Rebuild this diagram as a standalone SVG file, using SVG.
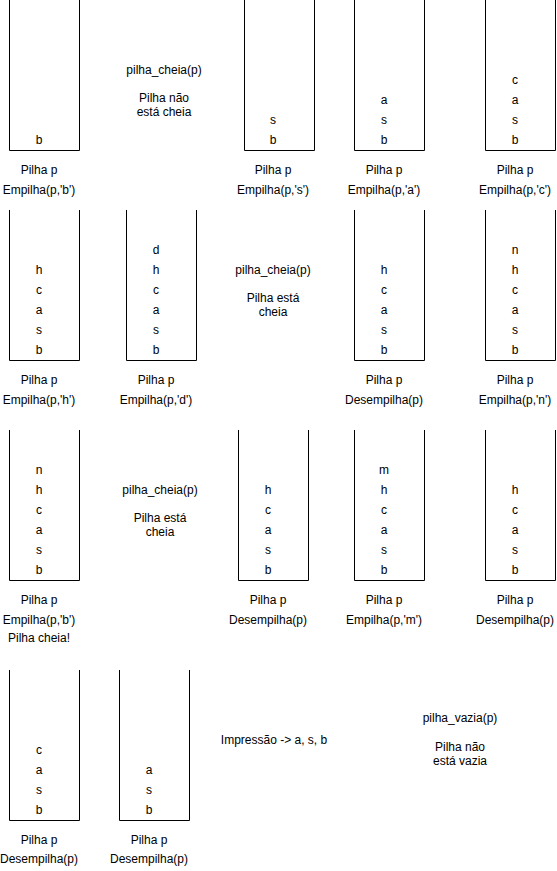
<svg xmlns="http://www.w3.org/2000/svg" width="557" height="871" viewBox="0 0 557 871">
<style>
text{font-family:"Liberation Sans",Arial,sans-serif;font-size:12px;fill:#000;text-anchor:middle}
.st{fill:none;stroke:#000;stroke-width:1}
</style>
<rect width="557" height="871" fill="#fff"/>
<g id="connectors"/>
<!-- Row 1 -->
<g id="s1">
<path class="st" d="M9.5,0V150.5H79.5V0"/>
<text x="39" y="144">b</text>
<text x="39" y="174">Pilha p</text><text x="39" y="194">Empilha(p,'b')</text>
</g>
<g id="t1">
<text x="164" y="74">pilha_cheia(p)</text>
<text x="164" y="102">Pilha não</text><text x="164" y="116">está cheia</text>
</g>
<g id="s2">
<path class="st" d="M244.5,0V150.5H314.5V0"/>
<text x="273" y="124">s</text><text x="273" y="144">b</text>
<text x="273" y="174">Pilha p</text><text x="273" y="194">Empilha(p,'s')</text>
</g>
<g id="s3">
<path class="st" d="M354.5,0V150.5H424.5V0"/>
<text x="384" y="104">a</text><text x="384" y="124">s</text><text x="384" y="144">b</text>
<text x="384" y="174">Pilha p</text><text x="384" y="194">Empilha(p,'a')</text>
</g>
<g id="s4">
<path class="st" d="M485.5,0V150.5H555.5V0"/>
<text x="515" y="84">c</text><text x="515" y="104">a</text><text x="515" y="124">s</text><text x="515" y="144">b</text>
<text x="515" y="174">Pilha p</text><text x="515" y="194">Empilha(p,'c')</text>
</g>
<!-- Row 2 -->
<g id="s5">
<path class="st" d="M9.5,210V360.5H79.5V210"/>
<text x="39" y="274">h</text><text x="39" y="294">c</text><text x="39" y="314">a</text><text x="39" y="334">s</text><text x="39" y="354">b</text>
<text x="39" y="384">Pilha p</text><text x="39" y="404">Empilha(p,'h')</text>
</g>
<g id="s6">
<path class="st" d="M126.5,210V360.5H196.5V210"/>
<text x="156" y="254">d</text><text x="156" y="274">h</text><text x="156" y="294">c</text><text x="156" y="314">a</text><text x="156" y="334">s</text><text x="156" y="354">b</text>
<text x="156" y="384">Pilha p</text><text x="156" y="404">Empilha(p,'d')</text>
</g>
<g id="t2">
<text x="273" y="274">pilha_cheia(p)</text>
<text x="273" y="302">Pilha está</text><text x="273" y="316">cheia</text>
</g>
<g id="s7">
<path class="st" d="M354.5,210V360.5H424.5V210"/>
<text x="384" y="274">h</text><text x="384" y="294">c</text><text x="384" y="314">a</text><text x="384" y="334">s</text><text x="384" y="354">b</text>
<text x="384" y="384">Pilha p</text><text x="384" y="404">Desempilha(p)</text>
</g>
<g id="s8">
<path class="st" d="M485.5,210V360.5H555.5V210"/>
<text x="515" y="254">n</text><text x="515" y="274">h</text><text x="515" y="294">c</text><text x="515" y="314">a</text><text x="515" y="334">s</text><text x="515" y="354">b</text>
<text x="515" y="384">Pilha p</text><text x="515" y="404">Empilha(p,'n')</text>
</g>
<!-- Row 3 -->
<g id="s9">
<path class="st" d="M9.5,430V580.5H79.5V430"/>
<text x="39" y="474">n</text><text x="39" y="494">h</text><text x="39" y="514">c</text><text x="39" y="534">a</text><text x="39" y="554">s</text><text x="39" y="574">b</text>
<text x="39" y="604">Pilha p</text><text x="39" y="624">Empilha(p,'b')</text><text x="39" y="642">Pilha cheia!</text>
</g>
<g id="t3">
<text x="160" y="494">pilha_cheia(p)</text>
<text x="160" y="522">Pilha está</text><text x="160" y="536">cheia</text>
</g>
<g id="s10">
<path class="st" d="M238.5,430V580.5H308.5V430"/>
<text x="268" y="494">h</text><text x="268" y="514">c</text><text x="268" y="534">a</text><text x="268" y="554">s</text><text x="268" y="574">b</text>
<text x="268" y="604">Pilha p</text><text x="268" y="624">Desempilha(p)</text>
</g>
<g id="s11">
<path class="st" d="M354.5,430V580.5H424.5V430"/>
<text x="384" y="474">m</text><text x="384" y="494">h</text><text x="384" y="514">c</text><text x="384" y="534">a</text><text x="384" y="554">s</text><text x="384" y="574">b</text>
<text x="384" y="604">Pilha p</text><text x="384" y="624">Empilha(p,'m')</text>
</g>
<g id="s12">
<path class="st" d="M485.5,430V580.5H555.5V430"/>
<text x="515" y="494">h</text><text x="515" y="514">c</text><text x="515" y="534">a</text><text x="515" y="554">s</text><text x="515" y="574">b</text>
<text x="515" y="604">Pilha p</text><text x="515" y="624">Desempilha(p)</text>
</g>
<!-- Row 4 -->
<g id="s13">
<path class="st" d="M9.5,670V820.5H79.5V670"/>
<text x="39" y="754">c</text><text x="39" y="774">a</text><text x="39" y="794">s</text><text x="39" y="814">b</text>
<text x="39" y="844">Pilha p</text><text x="39" y="863">Desempilha(p)</text>
</g>
<g id="s14">
<path class="st" d="M119.5,670V820.5H189.5V670"/>
<text x="149" y="774">a</text><text x="149" y="794">s</text><text x="149" y="814">b</text>
<text x="149" y="844">Pilha p</text><text x="149" y="863">Desempilha(p)</text>
</g>
<g id="t4">
<text x="274" y="744">Impressão -&gt; a, s, b</text>
</g>
<g id="t5">
<text x="460" y="722">pilha_vazia(p)</text>
<text x="460" y="751">Pilha não</text><text x="460" y="765">está vazia</text>
</g>
</svg>
